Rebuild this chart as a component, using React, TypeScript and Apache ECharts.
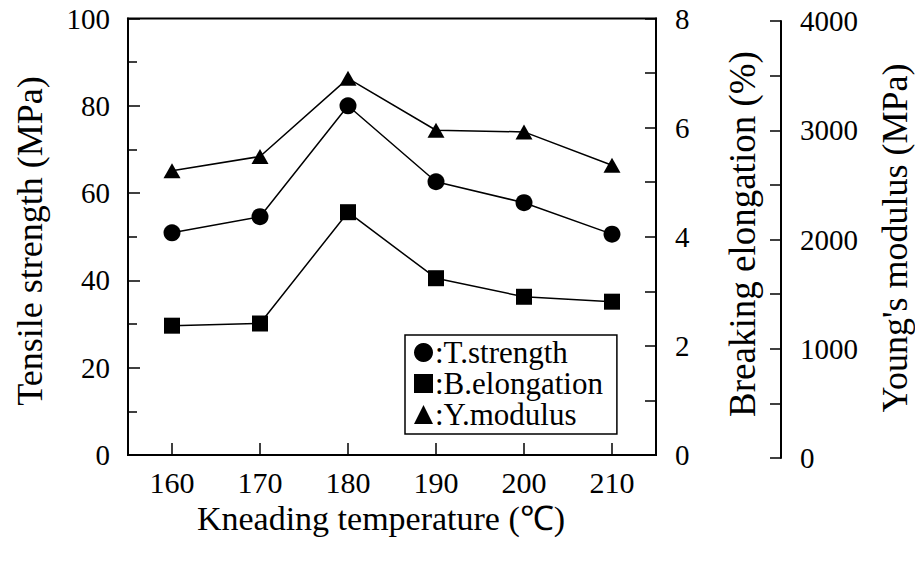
import React, { useEffect, useRef } from "react";
import * as echarts from "echarts";

const categories = ["160", "170", "180", "190", "200", "210"];
const tensileStrength = [50.9, 54.6, 80.0, 62.6, 57.8, 50.6];
const breakingElongation = [2.37, 2.41, 4.45, 3.24, 2.9, 2.81];
const youngsModulus = [2630, 2760, 3475, 3000, 2985, 2680];

const FONT = "Liberation Serif";
const BLACK = "#000";

export default function App() {
  const ref = useRef<HTMLDivElement>(null);
  useEffect(() => {
    document.body.style.margin = "0";
    if (!ref.current) return;
    const chart = echarts.init(ref.current, undefined, { renderer: "svg" });
    const plain = (v: number) => String(v);
    const axisLine = { show: true, lineStyle: { color: BLACK, width: 2 } };
    const tickStyle = { color: BLACK, width: 1.5 };
    const labelStyle = { color: BLACK, fontFamily: FONT, fontSize: 29 };
    const option: any = {
      animation: false,
      textStyle: { fontFamily: FONT, color: BLACK },
      grid: [
        { left: 128, top: 18.5, width: 528, height: 436.5, show: true, borderColor: BLACK, borderWidth: 2 },
        { left: 128, top: 21, width: 528, height: 437, show: false },
      ],
      xAxis: [
        {
          type: "category",
          gridIndex: 0,
          data: categories,
          boundaryGap: true,
          axisLine,
          axisTick: { show: true, inside: true, alignWithLabel: true, length: 12, lineStyle: tickStyle },
          axisLabel: { ...labelStyle, fontSize: 30, margin: 12 },
          splitLine: { show: false },
        },
        { type: "category", gridIndex: 1, data: categories, boundaryGap: true, show: false },
      ],
      yAxis: [
        {
          type: "value",
          gridIndex: 0,
          position: "left",
          min: 0,
          max: 100,
          interval: 20,
          axisLine,
          axisTick: { show: true, inside: true, length: 12, lineStyle: tickStyle },
          minorTick: { show: true, splitNumber: 2, length: 9, lineStyle: tickStyle },
          axisLabel: { ...labelStyle, margin: 18, formatter: plain },
          splitLine: { show: false },
        },
        {
          type: "value",
          gridIndex: 0,
          position: "right",
          min: 0,
          max: 8,
          interval: 2,
          axisLine,
          axisTick: { show: true, inside: true, length: 11, lineStyle: tickStyle },
          minorTick: { show: true, splitNumber: 2, length: 11, lineStyle: tickStyle },
          axisLabel: { ...labelStyle, margin: 19, formatter: plain },
          splitLine: { show: false },
        },
        {
          type: "value",
          gridIndex: 1,
          position: "right",
          offset: 125,
          min: 0,
          max: 4000,
          interval: 1000,
          axisLine,
          axisTick: { show: true, inside: true, length: 11, lineStyle: tickStyle },
          minorTick: { show: true, splitNumber: 2, length: 11, lineStyle: tickStyle },
          axisLabel: { ...labelStyle, margin: 19, formatter: plain },
          splitLine: { show: false },
        },
      ],
      legend: {
        orient: "vertical",
        left: 405,
        top: 335,
        padding: [2, 14, 4, 9],
        itemGap: 0,
        itemWidth: 19,
        itemHeight: 19,
        borderColor: BLACK,
        borderWidth: 1.5,
        borderRadius: 0,
        backgroundColor: "#fff",
        selectedMode: false,
        formatter: (n: string) => ":" + n,
        textStyle: { color: BLACK, fontFamily: FONT, fontSize: 31, padding: [0, 0, 0, -3] },
        data: [
          { name: "T.strength", icon: "circle" },
          { name: "B.elongation", icon: "rect" },
          { name: "Y.modulus", icon: "triangle" },
        ],
      },
      series: [
        {
          name: "T.strength",
          type: "line",
          xAxisIndex: 0,
          yAxisIndex: 0,
          data: tensileStrength,
          symbol: "circle",
          symbolSize: 17,
          itemStyle: { color: BLACK },
          lineStyle: { color: BLACK, width: 1.5 },
        },
        {
          name: "B.elongation",
          type: "line",
          xAxisIndex: 0,
          yAxisIndex: 1,
          data: breakingElongation,
          symbol: "rect",
          symbolSize: 16,
          itemStyle: { color: BLACK },
          lineStyle: { color: BLACK, width: 1.5 },
        },
        {
          name: "Y.modulus",
          type: "line",
          xAxisIndex: 1,
          yAxisIndex: 2,
          data: youngsModulus,
          symbol: "triangle",
          symbolSize: [17, 15],
          itemStyle: { color: BLACK },
          lineStyle: { color: BLACK, width: 1.5 },
        },
      ],
      graphic: [
        { type: "text", x: 30, y: 241, rotation: Math.PI / 2, style: { text: "Tensile strength (MPa)", fontSize: 36, fontFamily: FONT, fill: BLACK, align: "center", verticalAlign: "middle" } },
        { type: "text", x: 742, y: 234, rotation: Math.PI / 2, style: { text: "Breaking elongation (%)", fontSize: 37, fontFamily: FONT, fill: BLACK, align: "center", verticalAlign: "middle" } },
        { type: "text", x: 895, y: 238, rotation: Math.PI / 2, style: { text: "Young's modulus (MPa)", fontSize: 36, fontFamily: FONT, fill: BLACK, align: "center", verticalAlign: "middle" } },
        { type: "text", x: 381, y: 518, style: { text: "Kneading temperature (℃)", fontSize: 34, fontFamily: FONT, fill: BLACK, align: "center", verticalAlign: "middle" } },
      ],
    };
    chart.setOption(option);
    return () => chart.dispose();
  }, []);
  return <div ref={ref} style={{ width: 915, height: 564 }} />;
}
